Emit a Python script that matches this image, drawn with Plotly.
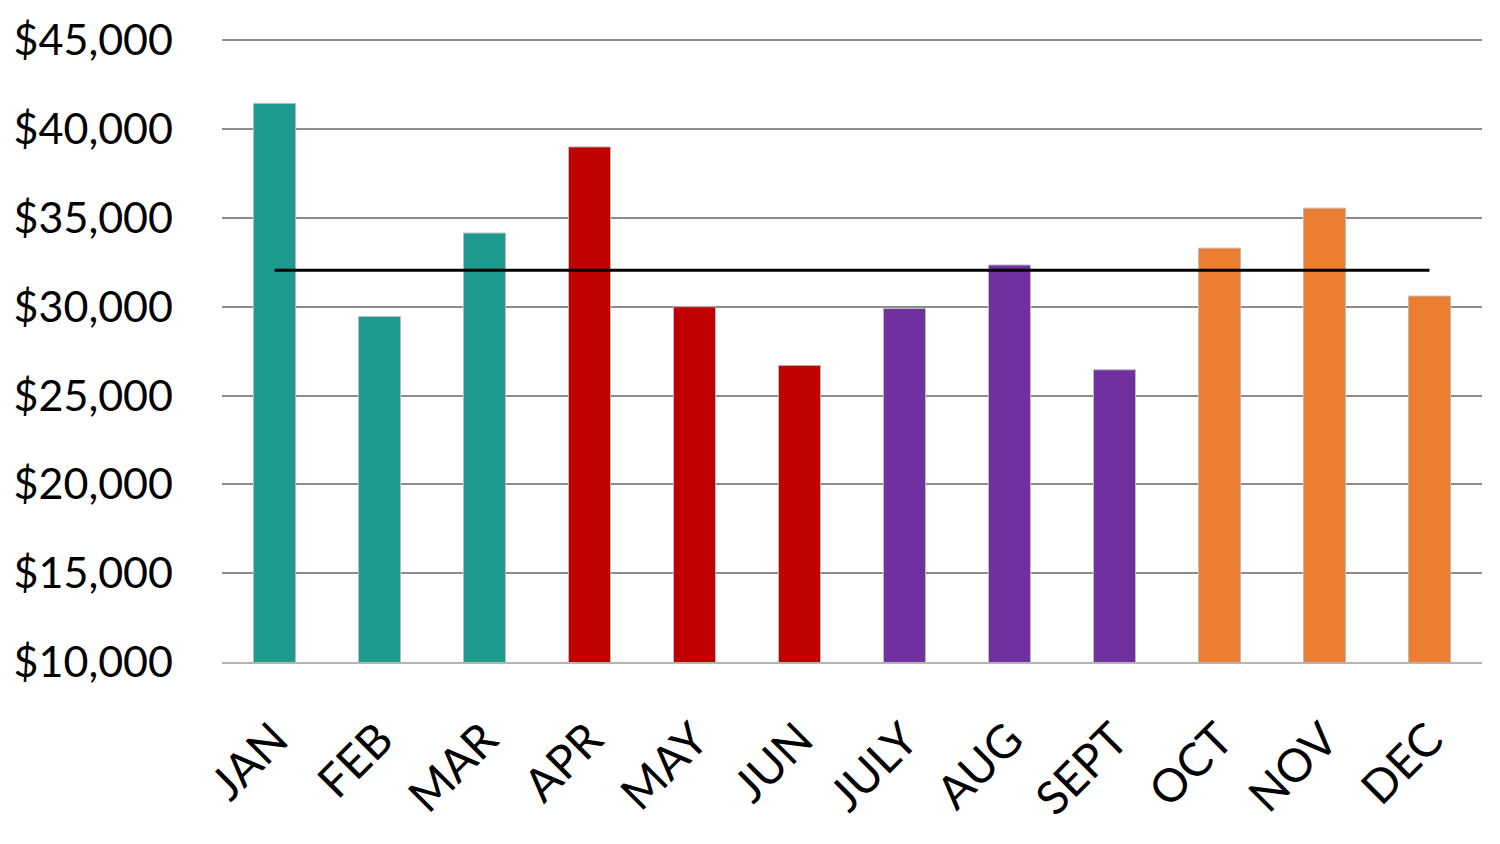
import plotly.graph_objects as go

# monthly sales
months = ['JAN', 'FEB', 'MAR', 'APR', 'MAY', 'JUN', 'JULY', 'AUG', 'SEPT', 'OCT', 'NOV', 'DEC']
sales = [41450, 29450, 34150, 39000, 30000, 26700, 29900, 32350, 26450, 33300, 35550, 30600]
# quarter colours
bar_colors = ['#1F9A8E'] * 3 + ['#C00000'] * 3 + ['#7030A0'] * 3 + ['#ED7D31'] * 3
# average line
average = [32050] * 12

tick_vals = [10000, 15000, 20000, 25000, 30000, 35000, 40000, 45000]
tick_text = ['$10,000', '$15,000', '$20,000', '$25,000', '$30,000', '$35,000', '$40,000', '$45,000']

fig = go.Figure()

fig.add_trace(go.Bar(
    x=months, y=sales,
    marker=dict(color=bar_colors, line=dict(color='#BBBBBB', width=1)),
))
fig.add_trace(go.Scatter(
    x=months, y=average, mode='lines',
    line=dict(color='black', width=3),
))

# page body has an 8px margin, so the figure is 8px smaller than the window
fig.update_layout(
    width=1492, height=836,
    margin=dict(l=214, r=18, t=27, b=182, autoexpand=False),
    paper_bgcolor='white', plot_bgcolor='white',
    showlegend=False,
    bargap=0.6,
    font=dict(family='Lato', color='black', size=43),
    xaxis=dict(
        tickangle=-45, showgrid=False,
        showline=True, linecolor='#B4B4B4', linewidth=2,
        automargin=False,
        ticklabelstandoff=30,
        tickfont=dict(size=46),
    ),
    yaxis=dict(
        range=[10000, 45300],
        tickvals=tick_vals, ticktext=tick_text,
        showgrid=True, gridcolor='#8C8C8C', gridwidth=2,
        zeroline=False, showline=False,
        automargin=False,
        ticklabelstandoff=48,
    ),
)

fig.write_html("out.html")
